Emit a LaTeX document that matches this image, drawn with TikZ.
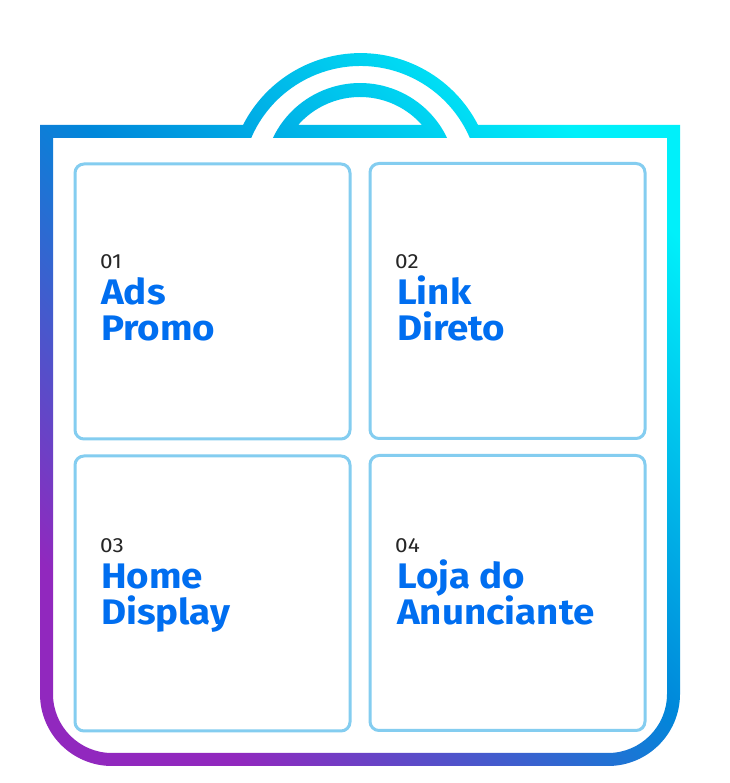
\documentclass[tikz,border=0pt]{standalone}
\usepackage{fontspec}
\setmainfont{Fira Sans}
\newfontfamily\titlefont[FakeStretch=1.085]{Fira Sans}
\newfontfamily\numfont[FakeStretch=1.1]{Fira Sans}
\definecolor{bagPurple}{RGB}{145,40,190}
\definecolor{bagBlue}{RGB}{0,135,218}
\definecolor{bagCyan}{RGB}{0,240,250}
\definecolor{cardEdge}{RGB}{132,205,240}
\definecolor{titleBlue}{RGB}{0,110,240}
\tikzset{
  card/.style={draw=cardEdge,line width=3pt,rounded corners=9pt,fill=white,minimum width=275pt,minimum height=275pt,inner sep=0pt},
  numlabel/.style={anchor=base west,inner sep=0pt,text=black!85,font=\numfont\fontsize{20.5}{21}\selectfont},
  titlelabel/.style={anchor=base west,inner sep=0pt,text=titleBlue,font=\titlefont\fontsize{35.5}{36}\selectfont\bfseries,align=left},
}
\begin{document}
\begin{tikzpicture}[x=1pt,y=1pt]
\useasboundingbox (0,0) rectangle (729,783);
\fill[white] (0,0) rectangle (729,783);
% bag outline with its two handles
\shade[even odd rule,bottom color=bagPurple,top color=bagCyan,middle color=bagBlue,shading angle=-45]
  (40,658) -- (243,658) arc[start angle=152.9,end angle=27.1,radius=132] -- (680,658)
  -- (680,89) arc[start angle=0,end angle=-90,radius=72] -- (112,17)
  arc[start angle=270,end angle=180,radius=72] -- cycle
  (53,645) -- (251.2,645) arc[start angle=156.74,end angle=23.26,radius=119] -- (667,645)
  -- (667,89) arc[start angle=0,end angle=-90,radius=59] -- (112,30)
  arc[start angle=270,end angle=180,radius=59] -- cycle
  (272.9,645) arc[start angle=154.5,end angle=25.5,radius=96.5] -- cycle
  (298.1,658) arc[start angle=138.65,end angle=41.35,radius=82.5] -- cycle;
% cards
\node[card] (c1) at (212.5,481.5) {};
\node[card] (c2) at (507.5,482) {};
\node[card] (c3) at (212.5,189.5) {};
\node[card] (c4) at (507.5,190) {};
% texts
\node[numlabel] (n1) at (100,514) {01};
\node[titlelabel] (t1) at (101,478) {Ads};
\node[titlelabel] (t1b) at (101,442) {Promo};
\node[numlabel] (n2) at (395,514) {02};
\node[titlelabel] (t2) at (397,478) {Link};
\node[titlelabel] (t2b) at (397,442) {Direto};
\node[numlabel] (n3) at (100,230) {03};
\node[titlelabel] (t3) at (101,194) {Home};
\node[titlelabel] (t3b) at (101,158) {Display};
\node[numlabel] (n4) at (395,230) {04};
\node[titlelabel] (t4) at (397,194) {Loja do};
\node[titlelabel] (t4b) at (397,158) {Anunciante};
\end{tikzpicture}
\end{document}
